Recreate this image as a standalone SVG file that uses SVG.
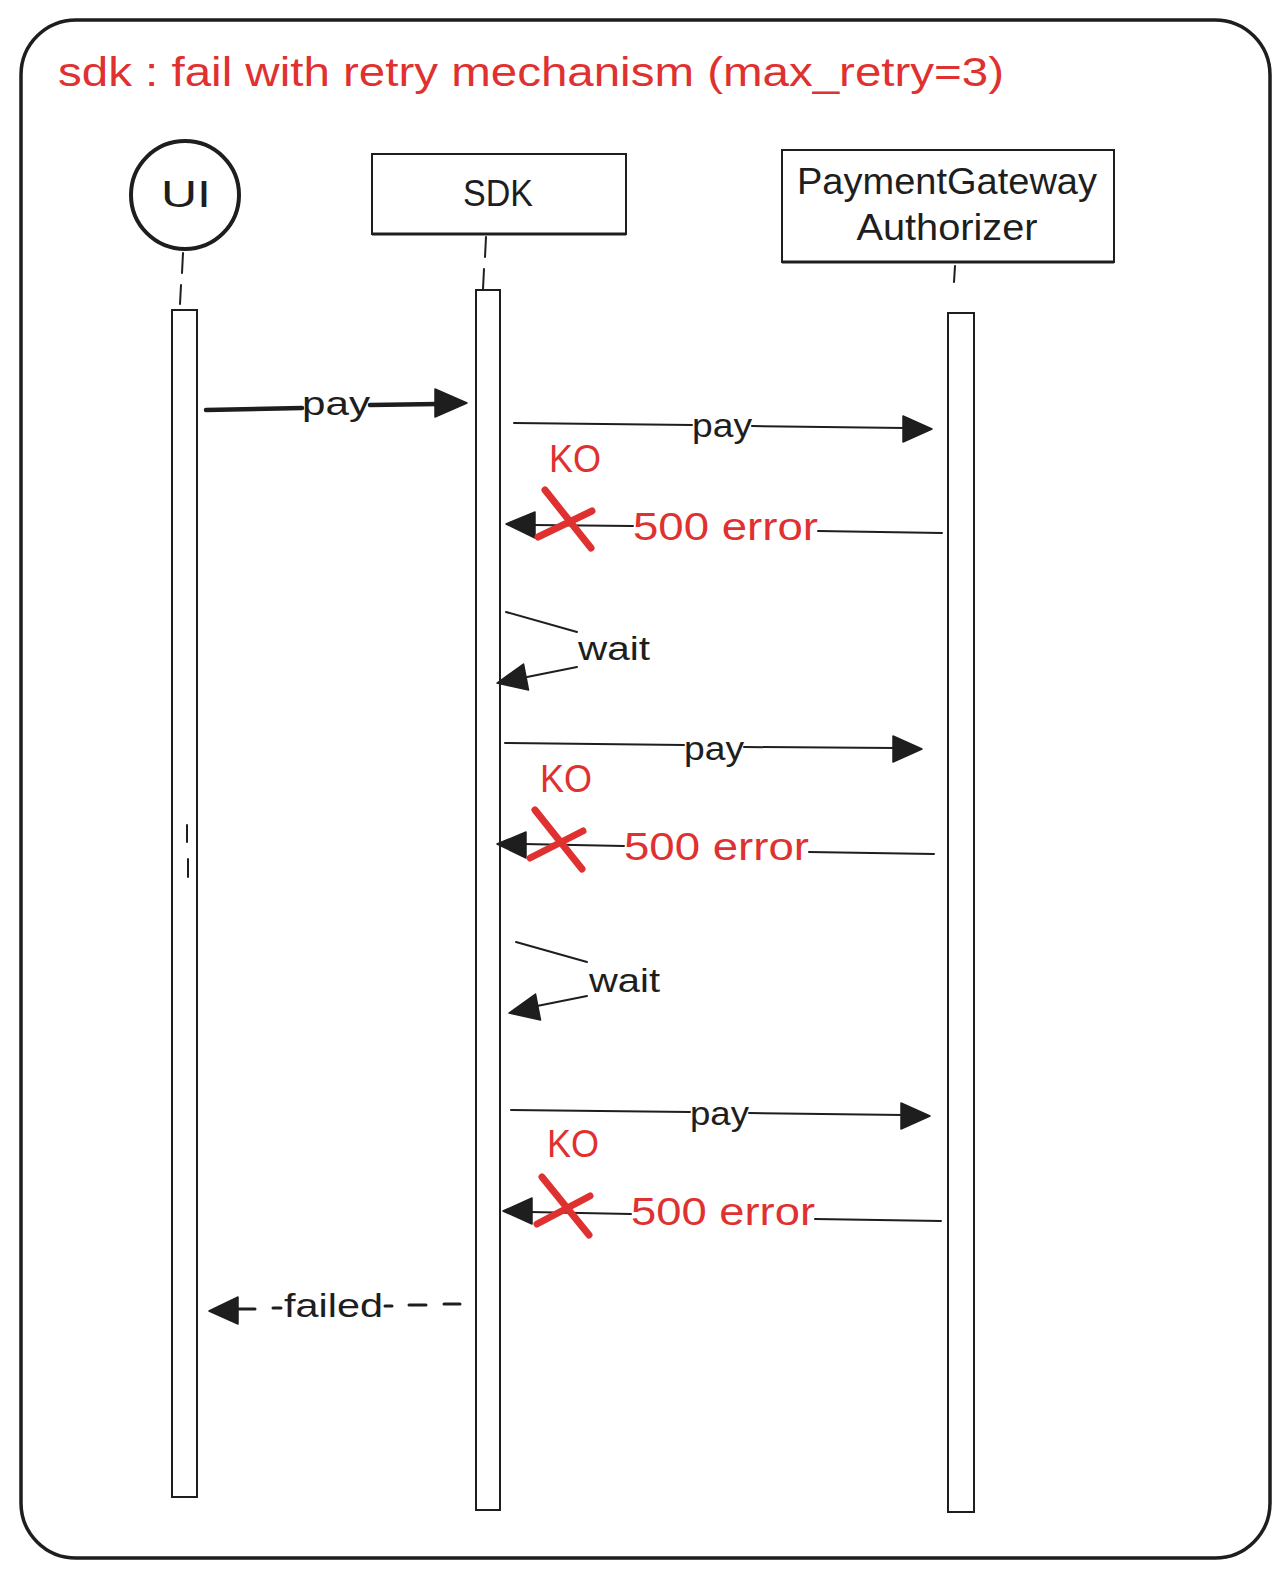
<svg xmlns="http://www.w3.org/2000/svg" width="1288" height="1578" viewBox="0 0 1288 1578">
  <defs>
    <style>
      .ink { stroke: #1e1e1e; fill: none; stroke-linecap: round; stroke-linejoin: round; }
      .box { stroke: #1e1e1e; fill: #ffffff; stroke-width: 2; }
      .head { fill: #1e1e1e; stroke: #1e1e1e; stroke-width: 1.5; stroke-linejoin: round; }
      .cross { stroke: #e03131; stroke-width: 7; stroke-linecap: round; fill: none; }
      .t { font-family: "Liberation Sans", Arial, sans-serif; fill: #1e1e1e; }
      .r { font-family: "Liberation Sans", Arial, sans-serif; fill: #e03131; }
      .lbl { font-size: 34px; }
      .err { font-size: 38px; }
    </style>
  </defs>
  <rect width="1288" height="1578" fill="#ffffff"/>

  <g id="frame">
    <rect x="21" y="20" width="1249" height="1538" rx="55" ry="55" fill="none" stroke="#1e1e1e" stroke-width="3.5"/>
    <text class="r" x="58" y="86" font-size="40" textLength="946" lengthAdjust="spacingAndGlyphs">sdk : fail with retry mechanism (max_retry=3)</text>
  </g>

  <g id="node-ui">
    <circle cx="185" cy="195" r="54" fill="#ffffff" stroke="#1e1e1e" stroke-width="4"/>
    <text class="t" x="186" y="207" font-size="36" text-anchor="middle" textLength="50" lengthAdjust="spacingAndGlyphs">UI</text>
    <path class="ink" stroke-width="2" d="M183 253 L182 273 M181 285 L180 304"/>
    <rect class="box" x="172" y="310" width="25" height="1187"/>
    <path class="ink" stroke-width="2" d="M187 825 L187 842 M188 859 L188 877"/>
  </g>

  <g id="node-sdk">
    <rect class="box" x="372" y="154" width="254" height="80"/>
    <line x1="372" y1="234" x2="626" y2="234" stroke="#1e1e1e" stroke-width="3"/>
    <text class="t" x="498" y="206" font-size="36" text-anchor="middle" textLength="70" lengthAdjust="spacingAndGlyphs">SDK</text>
    <path class="ink" stroke-width="2" d="M486 237 L485 257 M484 269 L483 289"/>
    <rect class="box" x="476" y="290" width="24" height="1220"/>
  </g>

  <g id="node-pg">
    <rect class="box" x="782" y="150" width="332" height="112"/>
    <line x1="782" y1="262" x2="1114" y2="262" stroke="#1e1e1e" stroke-width="3"/>
    <text class="t" x="947" y="194" font-size="36" text-anchor="middle" textLength="300" lengthAdjust="spacingAndGlyphs">PaymentGateway</text>
    <text class="t" x="947" y="240" font-size="36" text-anchor="middle" textLength="181" lengthAdjust="spacingAndGlyphs">Authorizer</text>
    <path class="ink" stroke-width="2" d="M955 266 L954 282"/>
    <rect class="box" x="948" y="313" width="26" height="1199"/>
  </g>

  <g id="connectors">
    <path class="ink" stroke-width="4.5" d="M206 410 L302 408 M370 405 L438 404"/>
    <polygon class="head" points="467,403 435,389 435,417"/>
    <text class="t lbl" x="302" y="415" textLength="68" lengthAdjust="spacingAndGlyphs">pay</text>

    <path class="ink" stroke-width="2" d="M514 423 L692 425 M752 426 L905 428"/>
    <polygon class="head" points="932,429 903,416 903,442"/>
    <text class="t lbl" x="692" y="437" textLength="60" lengthAdjust="spacingAndGlyphs">pay</text>

    <text class="r err" x="549" y="472" textLength="52" lengthAdjust="spacingAndGlyphs">KO</text>
    <path class="ink" stroke-width="2" d="M942 533 L818 531 M633 526 L533 525"/>
    <polygon class="head" points="506,524 535,512 535,538"/>
    <text class="r err" x="633" y="540" textLength="185" lengthAdjust="spacingAndGlyphs">500 error</text>
    <path class="cross" d="M545 490 L591 548 M592 511 L538 537"/>

    <path class="ink" stroke-width="2" d="M506 612 L577 632 M577 667 L527 677"/>
    <polygon class="head" points="497,683 523.5,664 528.5,690"/>
    <text class="t lbl" x="578" y="660" textLength="72" lengthAdjust="spacingAndGlyphs">wait</text>

    <path class="ink" stroke-width="2" d="M505 743 L684 745 M744 747 L895 748"/>
    <polygon class="head" points="922,749 893,736 893,762"/>
    <text class="t lbl" x="684" y="760" textLength="60" lengthAdjust="spacingAndGlyphs">pay</text>

    <text class="r err" x="540" y="792" textLength="52" lengthAdjust="spacingAndGlyphs">KO</text>
    <path class="ink" stroke-width="2" d="M934 854 L809 852 M624 846 L524 844"/>
    <polygon class="head" points="497,844 526,832 526,858"/>
    <text class="r err" x="624" y="860" textLength="185" lengthAdjust="spacingAndGlyphs">500 error</text>
    <path class="cross" d="M535 810 L582 869 M583 831 L530 858"/>

    <path class="ink" stroke-width="2" d="M516 942 L587 962 M587 996 L537 1006"/>
    <polygon class="head" points="509,1013 535.5,994 540.5,1020"/>
    <text class="t lbl" x="589" y="992" textLength="71" lengthAdjust="spacingAndGlyphs">wait</text>

    <path class="ink" stroke-width="2" d="M511 1110 L690 1112 M749 1113 L903 1115"/>
    <polygon class="head" points="930,1116 901,1103 901,1129"/>
    <text class="t lbl" x="690" y="1125" textLength="59" lengthAdjust="spacingAndGlyphs">pay</text>

    <text class="r err" x="547" y="1157" textLength="52" lengthAdjust="spacingAndGlyphs">KO</text>
    <path class="ink" stroke-width="2" d="M941 1221 L815 1219 M631 1214 L530 1212"/>
    <polygon class="head" points="503,1211 532,1198 532,1224"/>
    <text class="r err" x="631" y="1225" textLength="184" lengthAdjust="spacingAndGlyphs">500 error</text>
    <path class="cross" d="M542 1177 L589 1235 M590 1196 L537 1224"/>

    <path class="ink" stroke-width="3" d="M460 1304 L444 1304 M426 1305 L409 1305 M392 1306 L385 1306 M281 1308 L273 1308 M255 1309 L238 1309"/>
    <polygon class="head" points="209,1311 238,1297 238,1324"/>
    <text class="t lbl" x="284" y="1317" textLength="99" lengthAdjust="spacingAndGlyphs">failed</text>
  </g>
</svg>
